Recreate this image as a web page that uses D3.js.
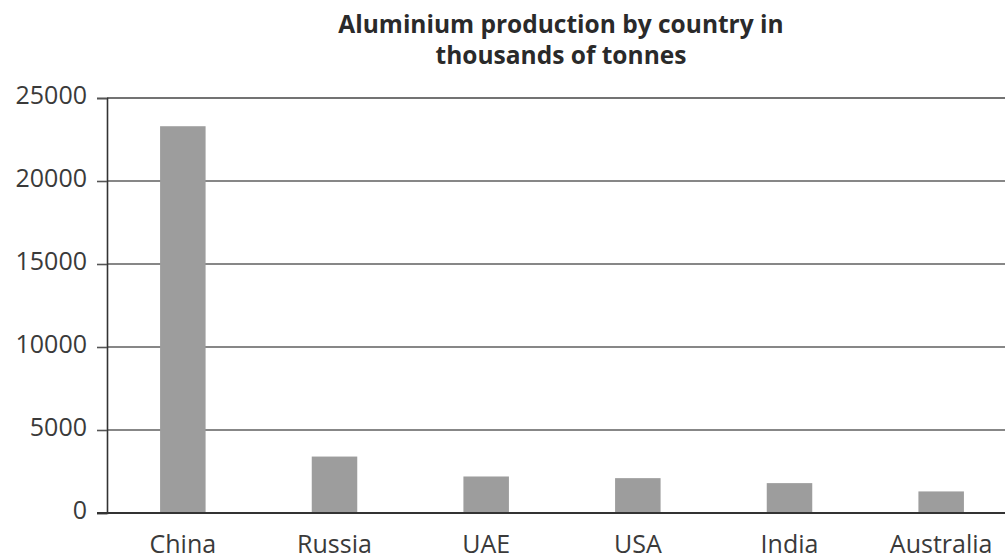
<!DOCTYPE html>
<html>
<head>
<meta charset="utf-8">
<script src="https://cdn.jsdelivr.net/npm/d3@7"></script>
<style>
  body { margin: 0; background: #fff; }
  svg { display: block; }
</style>
</head>
<body>
<svg id="chart" width="1005" height="560"></svg>
<script>
// chart data
var countries = ["China", "Russia", "UAE", "USA", "India", "Australia"];
var production = [23300, 3400, 2200, 2100, 1800, 1300];
var yTicks = [0, 5000, 10000, 15000, 20000, 25000];
var titleLines = ["Aluminium production by country in", "thousands of tonnes"];

var svg = d3.select("#chart");
// plot edges (note: "top" is reserved on window, so use plotTop)
var plotLeft = 107, plotRight = 1005, plotTop = 98, plotBottom = 513;

var x = d3.scaleBand()
    .domain(countries)
    .range([plotLeft, 1017])
    .paddingInner(0.7)
    .paddingOuter(0.35);

var y = d3.scaleLinear()
    .domain([0, 25000])
    .range([plotBottom, plotTop]);

// gridlines
svg.append("g")
    .selectAll("line")
    .data(yTicks.filter(function(d){ return d > 0; }))
    .join("line")
    .attr("x1", plotLeft)
    .attr("x2", plotRight)
    .attr("y1", function(d){ return y(d); })
    .attr("y2", function(d){ return y(d); })
    .attr("stroke", function(d){ return d == 25000 ? "#444" : "#5f5f5f"; })
    .attr("stroke-width", 1.6);

// y axis
var yAxis = svg.append("g")
    .attr("transform", "translate(" + plotLeft + ",0)")
    .call(d3.axisLeft(y).tickValues(yTicks).tickSize(10).tickPadding(10).tickFormat(d3.format("d")));
yAxis.select(".domain").attr("stroke", "#333").attr("stroke-width", 1.6);
yAxis.selectAll(".tick line").attr("stroke", "#555").attr("stroke-width", 1.6);
yAxis.selectAll("text")
    .attr("dy", "0.2em")
    .attr("font-family", "'Open Sans', sans-serif")
    .attr("font-size", 25)
    .attr("fill", "#3a3a3a");

// bars
svg.append("g")
    .selectAll("rect")
    .data(countries)
    .join("rect")
    .attr("x", function(d){ return x(d); })
    .attr("width", x.bandwidth())
    .attr("y", function(d, i){ return y(production[i]); })
    .attr("height", function(d, i){ return plotBottom - y(production[i]); })
    .attr("fill", "#9d9d9d");

// baseline
svg.append("line")
    .attr("x1", plotLeft - 10).attr("x2", plotRight)
    .attr("y1", plotBottom).attr("y2", plotBottom)
    .attr("stroke", "#333")
    .attr("stroke-width", 2);

// x labels
svg.append("g")
    .selectAll("text")
    .data(countries)
    .join("text")
    .attr("x", function(d){ return x(d) + x.bandwidth() / 2; })
    .attr("y", 553)
    .attr("text-anchor", "middle")
    .attr("font-family", "'Open Sans', sans-serif")
    .attr("font-size", 25)
    .attr("fill", "#3a3a3a")
    .text(function(d){ return d; });

// title
svg.append("g")
    .selectAll("text")
    .data(titleLines)
    .join("text")
    .attr("x", 561)
    .attr("y", function(d, i){ return 33 + i * 31; })
    .attr("text-anchor", "middle")
    .attr("font-family", "'Open Sans', sans-serif")
    .attr("font-weight", "bold")
    .attr("font-size", 24.5)
    .attr("fill", "#2a2a2a")
    .text(function(d){ return d; });
</script>
</body>
</html>
